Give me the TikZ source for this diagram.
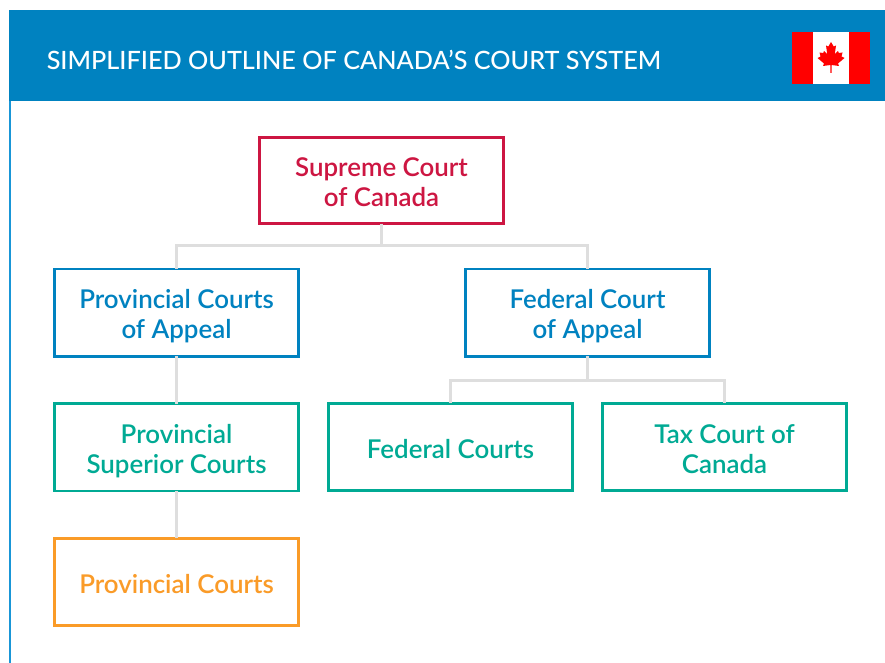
\documentclass[tikz,border=0pt]{standalone}
\usepackage{fontspec}
\setmainfont{Lato Semibold}
\newfontfamily\titlefont{Lato Medium}
\usetikzlibrary{positioning}
\definecolor{headblue}{RGB}{0,130,192}
\definecolor{sideblue}{RGB}{25,150,215}
\definecolor{supred}{RGB}{205,22,66}
\definecolor{appealblue}{RGB}{0,130,192}
\definecolor{trialgreen}{RGB}{0,170,148}
\definecolor{lowerorange}{RGB}{250,155,40}
\definecolor{linkgray}{RGB}{222,222,222}
\definecolor{flagred}{RGB}{255,0,0}
\newcommand{\ctop}{\rule{0pt}{22pt}}
\newcommand{\cbot}{\rule[-5pt]{0pt}{5pt}}

\tikzset{
  court/.style={draw, line width=2pt, fill=white, outer sep=0pt, inner sep=0pt,
    minimum width=183pt, minimum height=65.5pt, align=center,
    font=\fontsize{19.4}{22.5}\selectfont},
  link/.style={draw=linkgray, line width=2.2pt}
}

\begin{document}
\begin{tikzpicture}[x=0.75pt, y=-0.75pt, node distance=35.5pt]
  \useasboundingbox (0,0) rectangle (885,663);

  \fill[headblue] (9,10) rectangle (885,101);
  \draw[sideblue, line width=1.6pt] (10,101) -- (10,663);
  \node[anchor=west, text=white, inner sep=0pt, font=\titlefont\fontsize{18.92}{22}\selectfont] (title) at (46.5,60)
    {SIMPLIFIED OUTLINE OF CANADA’S COURT SYSTEM};

  % flag
  \fill[white] (792,32) rectangle (870,84);
  \fill[flagred] (792,32) rectangle (813,84);
  \fill[flagred] (849,32) rectangle (870,84);
  \fill[flagred] (831,42) -- (833.7,46.5) -- (836,45.5) -- (834.8,54) -- (838,51) -- (838.8,53)
    -- (842.5,52.5) -- (841.5,56.5) -- (844.5,58) -- (838,63.5) -- (839,66) -- (831.6,65)
    -- (831.6,73) -- (830.4,73) -- (830.4,65) -- (823,66) -- (824,63.5) -- (817.5,58)
    -- (820.5,56.5) -- (819.5,52.5) -- (823.2,53) -- (824,51) -- (827.2,54) -- (826,45.5)
    -- (828.3,46.5) -- cycle;

  \node[court, draw=supred, text=supred, minimum height=64.5pt] (supreme) at (381.5,180.5) {\ctop Supreme Court\\of Canada\cbot};
  \node[court, draw=appealblue, text=appealblue] (provappeal) at (176.5,312.5) {\ctop Provincial Courts\\of Appeal\cbot};
  \node[court, draw=appealblue, text=appealblue, right=125.25pt of provappeal] (fedappeal) {\ctop Federal Court\\of Appeal\cbot};
  \node[court, draw=trialgreen, text=trialgreen, below=of provappeal] (superior) {\ctop Provincial\\Superior Courts\cbot};
  \node[court, draw=trialgreen, text=trialgreen] (federal) at (450.5,447) {\ctop Federal Courts\cbot};
  \node[court, draw=trialgreen, text=trialgreen, right=22.5pt of federal] (tax) {\ctop Tax Court of\\Canada\cbot};
  \node[court, draw=lowerorange, text=lowerorange, below=of superior] (provincial) {\ctop Provincial Courts\cbot};

  \coordinate (topsplit) at (381.5,245.5);
  \coordinate (fedsplit) at (587.5,380.5);

  \draw[link] (supreme) -- (topsplit);
  \draw[link] (topsplit) -| (provappeal);
  \draw[link] (topsplit) -| (fedappeal);
  \draw[link] (provappeal) -- (superior);
  \draw[link] (superior) -- (provincial);
  \draw[link] (fedappeal) -- (fedsplit);
  \draw[link] (fedsplit) -| (federal);
  \draw[link] (fedsplit) -| (tax);
\end{tikzpicture}
\end{document}
